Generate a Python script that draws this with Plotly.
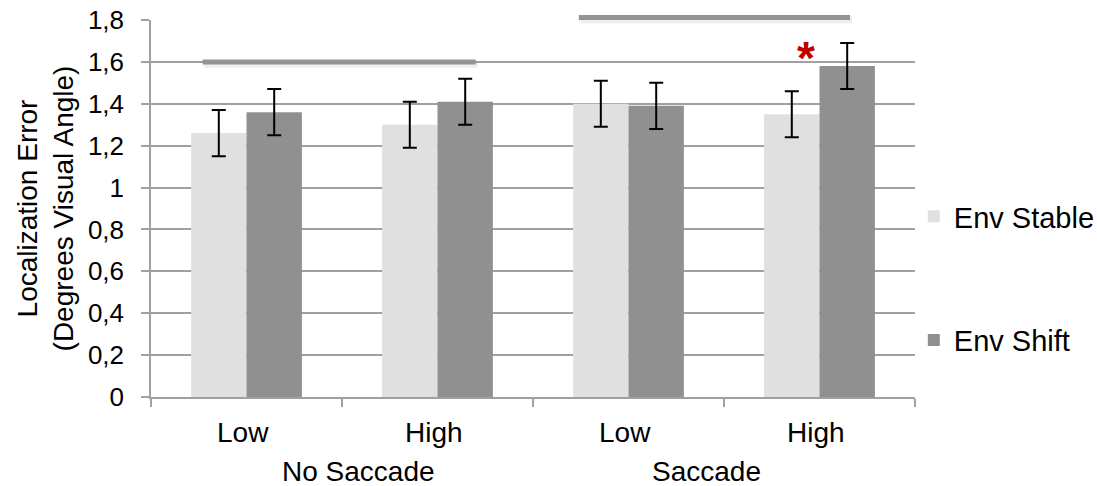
import plotly.graph_objects as go

# ---- data ----
outer = ["No Saccade", "No Saccade", "Saccade", "Saccade"]
inner = ["Low", "High", "Low", "High"]
groups = ["No Saccade", "Saccade"]
stable = [1.26, 1.30, 1.40, 1.35]
stable_err = [0.11, 0.11, 0.11, 0.11]
shift = [1.36, 1.41, 1.39, 1.58]
shift_err = [0.11, 0.11, 0.11, 0.11]
y_ticks = [0, 0.2, 0.4, 0.6, 0.8, 1.0, 1.2, 1.4, 1.6, 1.8]
y_max = 1.8
# significance bars: (x start index, x end index, y value)
sig_lines = [(-0.23, 1.2, 1.60), (1.74, 3.16, 1.812)]
star = (3, 1.62)

FONT = "Liberation Sans, Arial, sans-serif"

fig = go.Figure()
fig.add_trace(go.Bar(
    x=[outer, inner], y=stable, name="Env Stable", legendgroup="a",
    marker=dict(color="#E0E0E0", line=dict(width=0)),
    error_y=dict(type="data", array=stable_err, color="black", thickness=2, width=7),
))
fig.add_trace(go.Bar(
    x=[outer, inner], y=shift, name="Env Shift", legendgroup="b",
    marker=dict(color="#909090", line=dict(width=0)),
    error_y=dict(type="data", array=shift_err, color="black", thickness=2, width=7),
))

for x0, x1, yv in sig_lines:
    yp = yv / y_max
    fig.add_shape(type="line", xref="x", yref="paper", x0=x0 + 0.01, x1=x1 + 0.01,
                  y0=yp - 0.006, y1=yp - 0.006,
                  line=dict(color="rgba(0,0,0,0.07)", width=7), layer="above")
    fig.add_shape(type="line", xref="x", yref="paper", x0=x0, x1=x1, y0=yp, y1=yp,
                  line=dict(color="#939393", width=5), layer="above")

fig.add_annotation(x=star[0], y=star[1], xref="x", yref="y", text="<b>*</b>", showarrow=False,
                   xshift=-14, font=dict(family=FONT, size=46, color="#C00000"))

# category labels (inner row and group row)
for i, lab in enumerate(inner):
    fig.add_annotation(x=i, y=0, xref="x", yref="paper", text=lab, showarrow=False,
                       yanchor="middle", yshift=-35, xshift=-4,
                       font=dict(family=FONT, size=28, color="black"))
for g, lab in enumerate(groups):
    fig.add_annotation(x=2 * g + 0.5, y=0, xref="x", yref="paper", text=lab, showarrow=False,
                       yanchor="middle", yshift=-74, xshift=16 if g == 0 else -18,
                       font=dict(family=FONT, size=28, color="black"))

fig.update_layout(
    width=1097, height=486,
    margin=dict(l=151, r=182, t=20, b=89, autoexpand=False),
    paper_bgcolor="white", plot_bgcolor="white",
    separators=", ",
    barmode="group", bargap=0.42, bargroupgap=0,
    font=dict(family=FONT, size=24, color="black"),
    showlegend=True,
    legend=dict(xref="container", yref="container", x=0.833, xanchor="left",
                y=0.607, yanchor="top",
                font=dict(family=FONT, size=29, color="black"),
                tracegroupgap=83, itemwidth=30, bgcolor="rgba(0,0,0,0)"),
)
fig.update_xaxes(
    type="multicategory", showdividers=False, tickson="boundaries",
    ticks="outside", ticklen=8, tickcolor="#A0A0A0", tickwidth=1.5,
    showline=True, linecolor="#A0A0A0", linewidth=1.5, showgrid=False,
    showticklabels=False, automargin=False,
)
fig.update_yaxes(
    range=[0, y_max], tickvals=y_ticks, ticks="outside", ticklen=8,
    tickcolor="#A0A0A0", tickwidth=1.5, ticklabelstandoff=12,
    showline=True, linecolor="#A0A0A0", linewidth=1.5,
    showgrid=True, gridcolor="#A0A0A0", gridwidth=1.5, zeroline=False,
    automargin=False,
    tickfont=dict(family=FONT, size=26, color="black"),
    title=dict(text="Localization Error<br>(Degrees Visual Angle)",
               font=dict(family=FONT, size=28, color="black"), standoff=6),
)

fig.write_html("out.html", config={"displayModeBar": False},
               post_script="document.body.style.margin='0';document.body.style.overflow='hidden';")
